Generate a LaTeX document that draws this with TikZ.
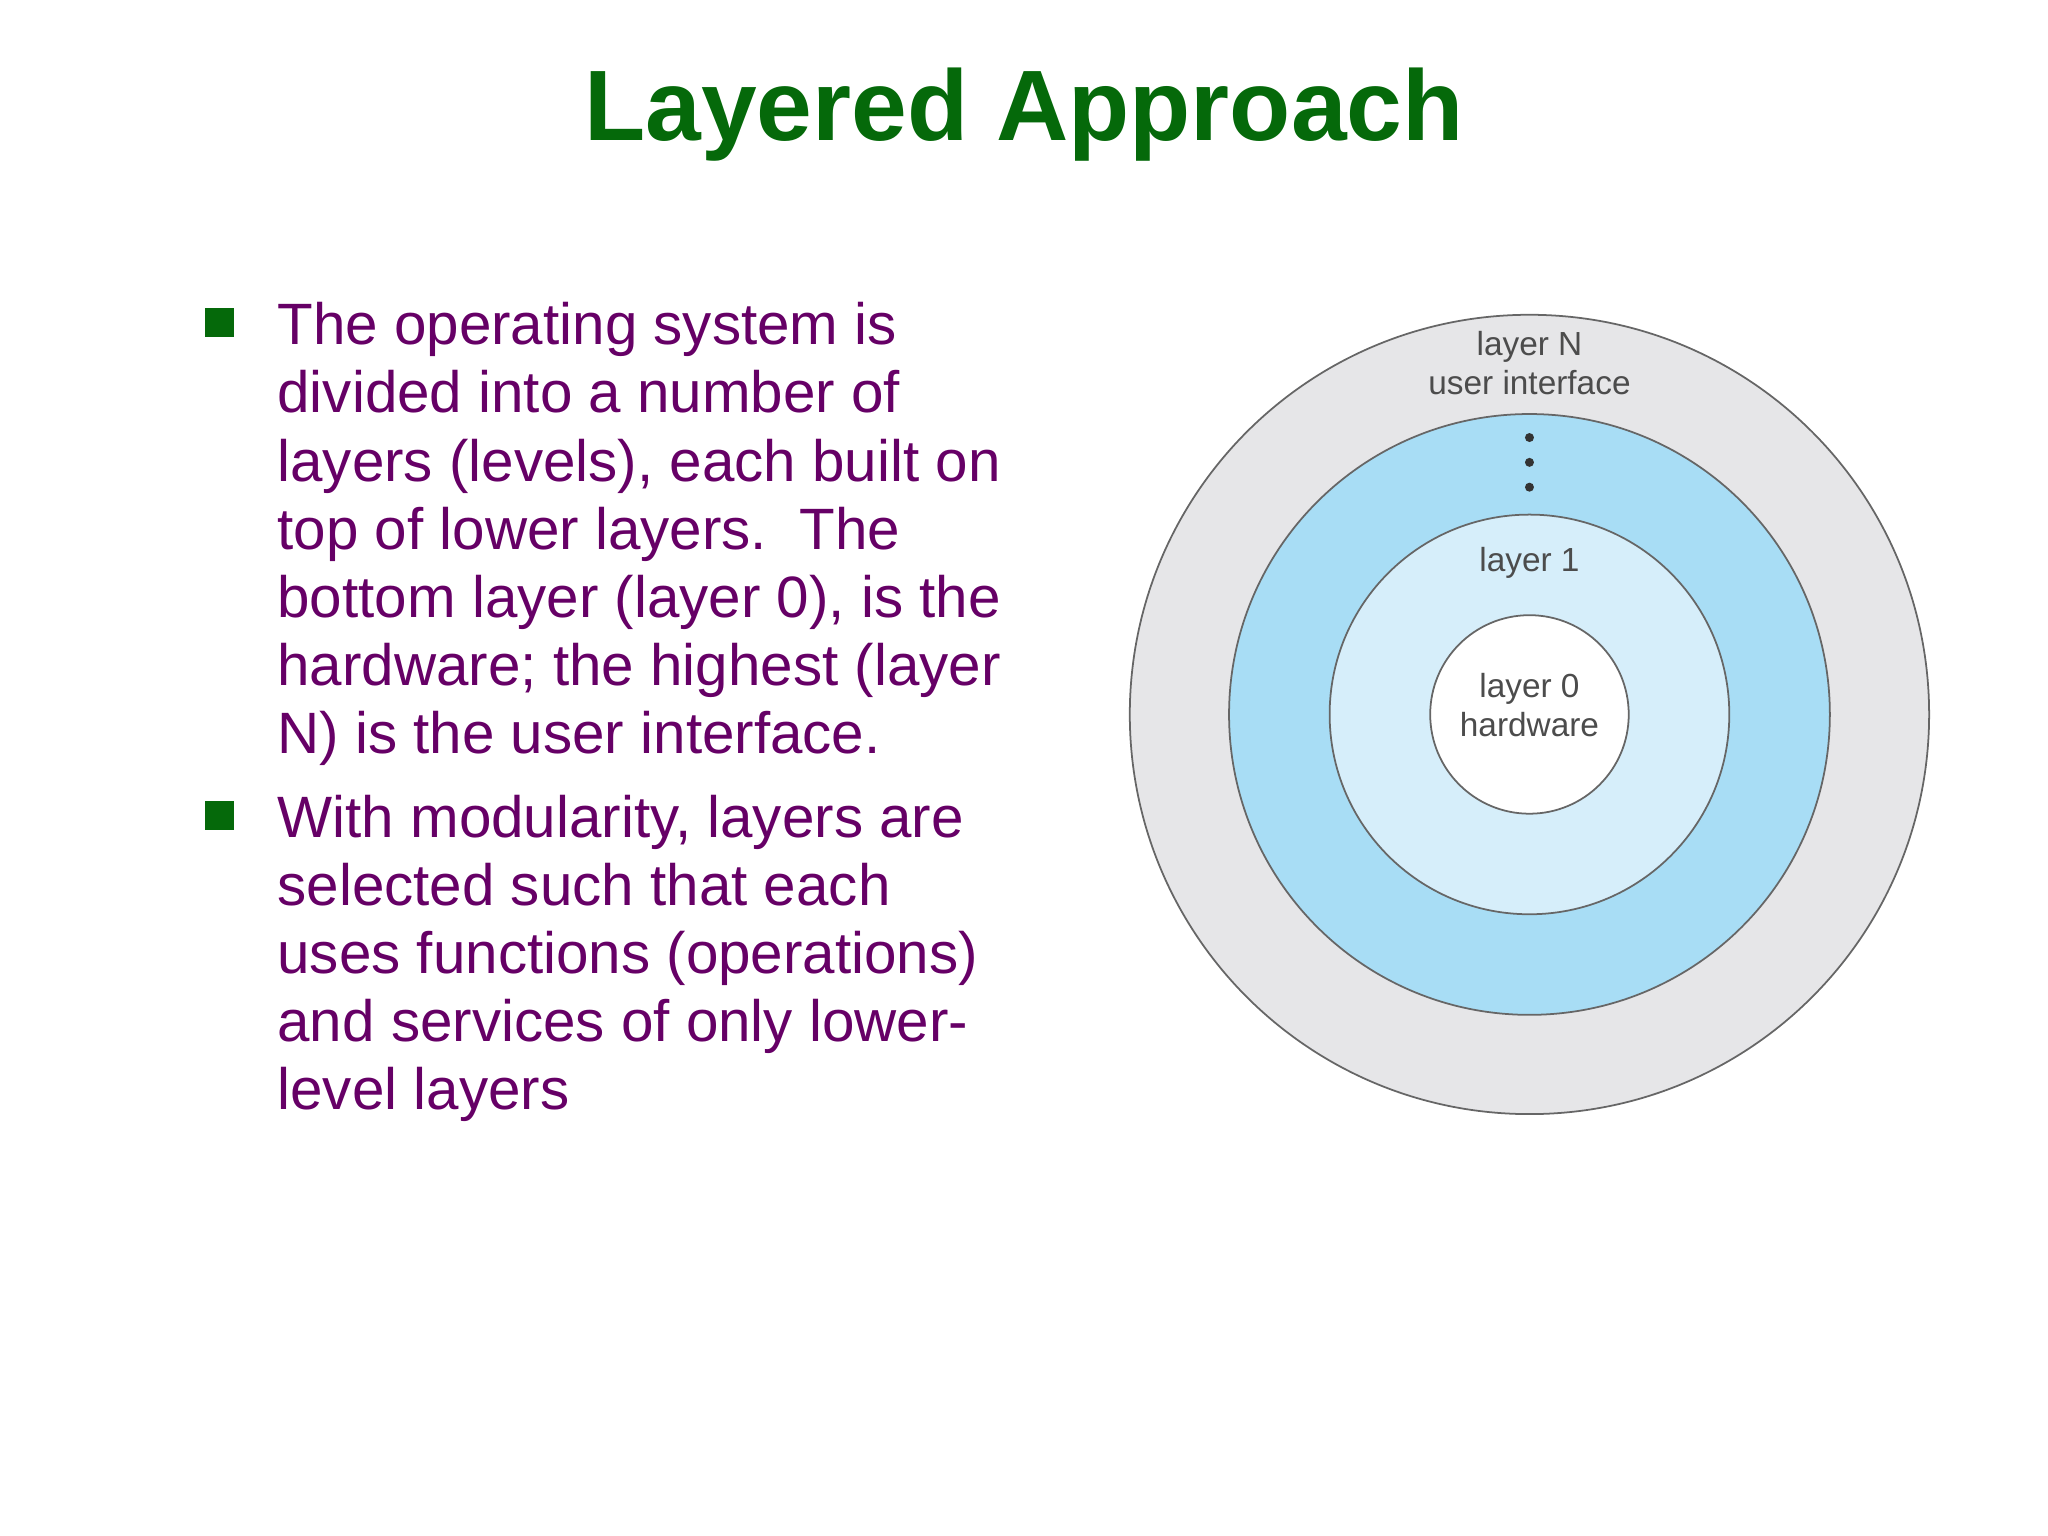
\documentclass[tikz,border=0pt]{standalone}
\usepackage{fontspec}
\setmainfont{Liberation Sans}
\definecolor{titlegreen}{RGB}{5,105,10}
\definecolor{txtpurple}{RGB}{102,0,102}
\definecolor{ringgrey}{RGB}{230,230,232}
\definecolor{ringblue}{RGB}{168,221,245}
\definecolor{ringlight}{RGB}{214,238,250}
\begin{document}
\begin{tikzpicture}[x=0.01306cm,y=-0.01306cm,
  ring/.style={draw=black!60,line width=0.5pt},
  lbl/.style={font=\fontsize{9.5}{11}\selectfont,text=black!70,align=center},
  body/.style={anchor=north west,align=left,text=txtpurple,font=\fontsize{16.6}{19.4}\selectfont},
  bul/.style={fill=titlegreen,minimum size=0.29cm,inner sep=0pt}]
\useasboundingbox (0,0) rectangle (1568,1176);
\node[text=titlegreen,font=\fontsize{28.5}{30}\selectfont\bfseries] (title) at (784,88) {Layered Approach};
\node[bul] (b1) at (168,247) {};
\node[bul] (b2) at (168,624) {};
\node[body] (t1) at (203,222) {The operating system is\\divided into a number of\\layers (levels), each built on\\top of lower layers.\ \ The\\bottom layer (layer 0), is the\\hardware; the highest (layer\\N) is the user interface.};
\node[body] (t2) at (203,599) {With modularity, layers are\\selected such that each\\uses functions (operations)\\and services of only lower-\\level layers};
\coordinate (c) at (1171,547);
\fill[ring,fill=ringgrey] (c) circle[radius=306*0.01306cm];
\fill[ring,fill=ringblue] (c) circle[radius=230*0.01306cm];
\fill[ring,fill=ringlight] (c) circle[radius=153*0.01306cm];
\fill[ring,fill=white] (c) circle[radius=76*0.01306cm];
\node[lbl] (ln) at (1171,278) {layer N\\user interface};
\foreach \yy in {335,354,373} \fill[black!80] (1171,\yy) circle[radius=0.045cm];
\node[lbl] (l1) at (1171,431) {layer 1};
\node[lbl] (l0) at (1171,540) {layer 0\\hardware};
\end{tikzpicture}
\end{document}
